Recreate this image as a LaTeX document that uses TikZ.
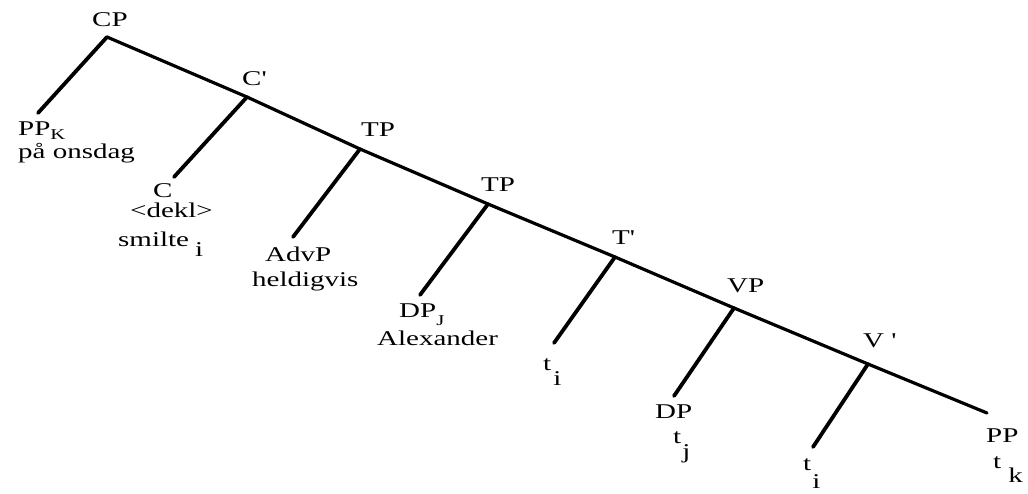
\documentclass[tikz,border=0pt]{standalone}
\usepackage{fontspec}
\setmainfont{Liberation Serif}[FakeStretch=1.38]
\newcommand{\lowidx}[2]{\raisebox{-#1}{#2}}

\begin{document}
\begin{tikzpicture}[x=1pt,y=-1pt,line cap=round,
  spine/.style={line width=3.2pt},
  branch/.style={line width=3.8pt},
  lab/.style={anchor=base west,inner sep=0pt,font=\fontsize{21}{24}\selectfont}]
  \useasboundingbox (0,0) rectangle (1028,494);
  % junctions on the spine
  \coordinate (cp) at (107,37);
  \coordinate (cbar) at (247,97);
  \coordinate (tp1) at (360,149);
  \coordinate (tp2) at (488,204);
  \coordinate (tbar) at (615,257);
  \coordinate (vp) at (734,308);
  \coordinate (vbar) at (868,364);
  \coordinate (pp) at (987,413);
  % lower ends of the left branches
  \coordinate (ppk) at (38,113);
  \coordinate (c) at (174,177);
  \coordinate (advp) at (293,237);
  \coordinate (dpj) at (420,295);
  \coordinate (ti1) at (554,343);
  \coordinate (dp) at (674,396);
  \coordinate (ti2) at (813,447);

  \draw[spine] (cp) -- (cbar) -- (tp1) -- (tp2) -- (tbar) -- (vp) -- (vbar) -- (pp);
  \draw[branch] (cp) -- (ppk);
  \draw[branch] (cbar) -- (c);
  \draw[branch] (tp1) -- (advp);
  \draw[branch] (tp2) -- (dpj);
  \draw[branch] (tbar) -- (ti1);
  \draw[branch] (vp) -- (dp);
  \draw[branch] (vbar) -- (ti2);

  % labels on the spine
  \node[lab] (cp-lab) at (92,27) {CP};
  \node[lab] (cbar-lab) at (242,86) {C\textquotesingle};
  \node[lab] (tp1-lab) at (361,137) {TP};
  \node[lab] (tp2-lab) at (481,192) {TP};
  \node[lab] (tbar-lab) at (612,245) {T\textquotesingle};
  \node[lab] (vp-lab) at (727,293) {VP};
  \node[lab] (vbar-lab) at (863,348) {V \textquotesingle};
  % labels at the leaves
  \node[lab] (ppk-cat) at (18,136) {PP\lowidx{4pt}{\fontsize{15}{15}\selectfont K}};
  \node[lab] (ppk-word) at (18,159) {på onsdag};
  \node[lab] (c-cat) at (153,198) {C};
  \node[lab] (c-feat) at (130,218) {\textless dekl\textgreater};
  \node[lab] (c-word) at (118,247) {smilte\hspace{6pt}\lowidx{10pt}{i}};
  \node[lab] (advp-cat) at (265,262) {AdvP};
  \node[lab] (advp-word) at (252,287) {heldigvis};
  \node[lab] (dpj-cat) at (399,317) {DP\lowidx{8pt}{\fontsize{15}{15}\selectfont J}};
  \node[lab] (dpj-word) at (377,345) {Alexander};
  \node[lab] (ti1-lab) at (543,370) {t\hspace{2pt}\lowidx{15pt}{i}};
  \node[lab] (dp-cat) at (655,418) {DP};
  \node[lab] (dp-word) at (673,443) {t\hspace{1pt}\lowidx{15pt}{j}};
  \node[lab] (ti2-lab) at (803,470) {t\hspace{1pt}\lowidx{18pt}{i}};
  \node[lab] (pp-cat) at (986,442) {PP};
  \node[lab] (pp-word) at (993,468) {t\hspace{7pt}\lowidx{14pt}{k}};
\end{tikzpicture}
\end{document}
